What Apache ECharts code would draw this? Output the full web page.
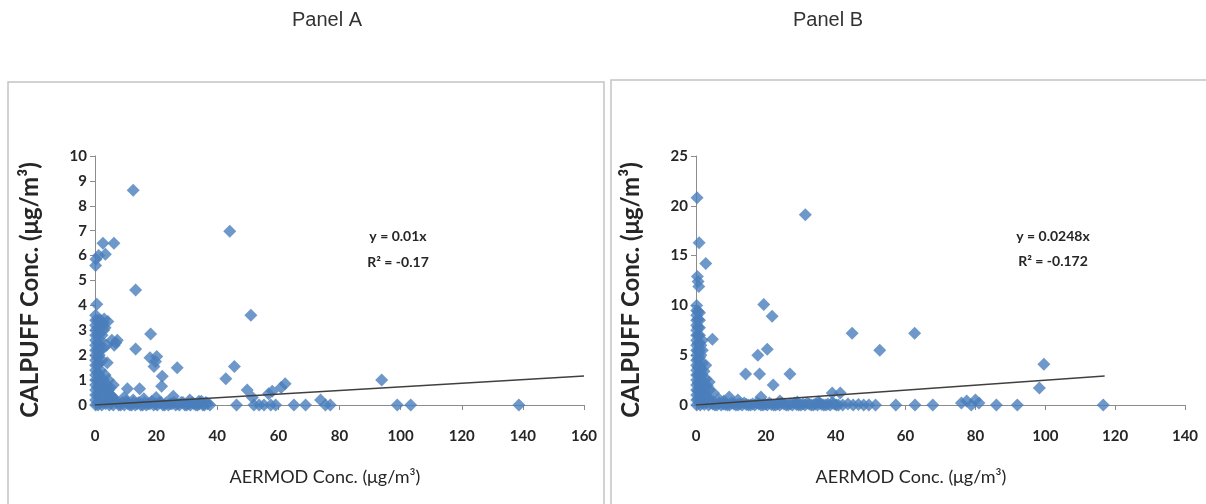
<!DOCTYPE html>
<html>
<head>
<meta charset="utf-8">
<script src="https://cdn.jsdelivr.net/npm/echarts@6/dist/echarts.min.js"></script>
<style>
  html, body { margin: 0; padding: 0; background: #ffffff; }
  #chart { width: 1206px; height: 504px; }
</style>
</head>
<body>
<div id="chart"></div>
<script>
// AERMOD vs CALPUFF modelled concentrations (µg/m³), two receptor sets

const panelNames = ['Panel A', 'Panel B'];
const xAxisTitle = 'AERMOD Conc. (μg/m³)';
const yAxisTitle = 'CALPUFF Conc. (μg/m³)';

// axis ranges: [min, max, interval]
const xRangeA = [0, 160, 20];
const yRangeA = [0, 10, 1];
const xRangeB = [0, 140, 20];
const yRangeB = [0, 25, 5];

// fitted trend lines (through origin) and their statistics
const slopeA = 0.0073;
const slopeB = 0.0248;
const rSquaredA = '-0.17';
const rSquaredB = '-0.172';
const trendSpanA = [0, 160];
const trendSpanB = [0, 117];

// Panel A observations: [AERMOD, CALPUFF]
const pointsA = [
  [12.5, 8.62], [44.1, 6.98], [6.2, 6.5], [2.6, 6.5], [3.4, 6.05], [1.2, 6.0], [0.3, 5.85], [0.2, 5.6],
  [13.3, 4.62], [0.6, 4.05], [51.0, 3.6], [4.2, 3.35], [3.0, 3.45], [18.2, 2.85], [6.8, 2.5], [6.3, 2.4],
  [7.3, 2.6], [5.5, 2.6], [13.3, 2.25], [18.0, 1.9], [20.2, 1.95], [19.3, 1.55], [19.8, 1.75], [4.0, 1.7],
  [26.9, 1.5], [22.0, 1.15], [21.8, 0.75], [10.6, 0.65], [14.6, 0.65], [45.6, 1.55], [42.8, 1.05],
  [49.8, 0.6], [62.2, 0.85], [58.0, 0.55], [56.8, 0.45], [60.9, 0.7], [93.8, 1.0], [25.6, 0.35],
  [73.8, 0.2], [51.5, 0.3],
  [46.3, 0], [52.0, 0], [53.7, 0], [55.3, 0], [57.5, 0], [59.1, 0], [65.1, 0], [68.9, 0], [75.4, 0],
  [77.0, 0], [98.9, 0], [103.3, 0], [138.7, 0],
  [1.0, 0], [1.6, 0.1], [2.2, 0], [2.9, 0.1], [3.5, 0.05], [4.1, 0.15], [4.7, 0], [5.4, 0.1], [6.0, 0],
  [6.6, 0.15], [7.2, 0.1], [7.8, 0], [8.4, 0], [9.0, 0.1], [9.6, 0], [10.2, 0.15], [10.8, 0.05], [11.4, 0],
  [12.0, 0], [12.6, 0.1], [13.2, 0], [13.8, 0.05], [14.4, 0.1], [15.0, 0], [15.6, 0], [16.2, 0.1],
  [16.8, 0], [17.4, 0.05], [18.0, 0.05], [18.6, 0.15], [19.2, 0], [19.8, 0.05], [20.4, 0], [21.0, 0.1],
  [21.6, 0.1], [22.2, 0], [22.8, 0], [23.4, 0.1], [24.0, 0], [24.6, 0.05], [25.2, 0.05], [25.8, 0.1],
  [26.4, 0], [27.0, 0.05], [27.6, 0], [28.2, 0.1], [28.8, 0.1], [29.4, 0], [30.0, 0], [30.6, 0.05],
  [31.2, 0], [31.8, 0.1], [32.4, 0.05], [33.0, 0], [33.6, 0], [34.2, 0.05], [34.8, 0.15], [35.3, 0],
  [35.8, 0], [36.3, 0.1], [36.8, 0.05], [37.6, 0],
  [9.5, 0.3], [16.0, 0.25], [20.0, 0.3], [31.0, 0.2], [34.0, 0.15], [12.5, 0.2], [5.5, 0.35],
  [0.2, 0], [0.2, 0.2], [0.2, 0.4], [0.2, 0.6], [0.2, 0.8], [0.2, 1.0], [0.2, 1.2], [0.2, 1.4], [0.2, 1.6],
  [0.2, 1.8], [0.2, 2.0], [0.2, 2.2], [0.2, 2.4], [0.2, 2.6], [0.2, 2.8], [0.2, 3.0], [0.2, 3.2], [0.2, 3.4],
  [0.2, 3.6],
  [0.9, 0.1], [0.9, 0.4], [0.9, 0.7], [0.9, 1.0], [0.9, 1.3], [0.9, 1.6], [0.9, 1.9], [0.9, 2.2], [0.9, 2.5],
  [0.9, 2.8], [0.9, 3.1], [0.9, 3.4],
  [1.4, 0.3], [1.4, 0.8], [1.4, 1.2], [1.4, 1.7], [1.4, 2.0], [1.4, 2.4], [1.4, 2.9], [1.4, 3.3],
  [1.8, 3.4], [1.8, 3.1], [1.8, 2.6], [1.8, 2.2], [1.8, 1.4], [1.8, 0.9], [1.8, 0.5], [1.8, 0.2],
  [2.3, 3.2], [2.3, 2.8], [2.3, 1.8], [2.3, 0.8], [2.3, 0.4],
  [2.8, 3.3], [2.8, 3.0], [2.8, 2.3], [2.8, 1.0], [2.8, 0.6], [2.8, 0.3],
  [3.3, 3.1], [3.3, 1.2], [3.3, 0.7],
  [3.8, 2.4], [3.8, 0.8], [3.8, 0.5], [3.8, 0.2],
  [4.4, 1.0], [4.4, 0.6],
  [5.0, 0.7], [5.0, 0.4], [5.0, 0.1], [6.0, 0.8], [6.0, 0.3]
];

// Panel B observations: [AERMOD, CALPUFF]
const pointsB = [
  [0.3, 20.8], [31.3, 19.1], [0.9, 16.3], [2.8, 14.2], [0.4, 12.9], [0.6, 12.4], [0.8, 11.9],
  [19.4, 10.1], [21.8, 8.9], [4.7, 6.6], [44.7, 7.2], [62.6, 7.2], [52.6, 5.5], [20.4, 5.6], [17.7, 5.0],
  [14.2, 3.1], [18.2, 3.1], [26.9, 3.1], [22.1, 2.0], [99.6, 4.1], [98.3, 1.7], [39.0, 1.2], [41.3, 1.2],
  [9.5, 0.8], [18.6, 0.8], [12.0, 0.5], [24.0, 0.4], [29.0, 0.3], [35.0, 0.3],
  [42.0, 0], [43.5, 0.1], [45.0, 0], [46.5, 0.05], [48.0, 0], [49.5, 0], [51.4, 0], [57.2, 0], [62.7, 0],
  [67.8, 0], [76.0, 0.2], [77.5, 0.4], [78.8, 0], [80.0, 0.5], [81.0, 0.2], [86.0, 0], [92.0, 0], [116.6, 0],
  [1.2, 0], [1.8, 0.2], [2.4, 0.05], [3.0, 0.3], [3.6, 0], [4.2, 0.2], [4.8, 0.1], [5.4, 0], [6.0, 0],
  [6.6, 0.2], [7.2, 0], [7.8, 0.1], [8.4, 0.05], [9.0, 0], [9.6, 0], [10.2, 0.2], [10.8, 0.1], [11.4, 0],
  [12.0, 0], [12.6, 0.1], [13.2, 0], [13.8, 0.2], [14.4, 0.05], [15.0, 0], [15.6, 0], [16.2, 0.1],
  [16.8, 0], [17.4, 0.2], [18.0, 0.1], [18.6, 0], [19.2, 0], [19.8, 0.1], [20.4, 0], [21.0, 0.2],
  [21.6, 0.05], [22.2, 0], [22.8, 0], [23.4, 0.1], [24.0, 0], [24.6, 0.2], [25.2, 0.1], [25.8, 0],
  [26.4, 0], [27.0, 0.1], [27.6, 0], [28.2, 0.2], [28.8, 0.05], [29.4, 0], [30.0, 0], [30.6, 0.1],
  [31.2, 0], [31.8, 0.2], [32.4, 0.1], [33.0, 0], [33.6, 0], [34.2, 0.1], [34.8, 0], [35.4, 0.2],
  [36.0, 0.05], [36.6, 0], [37.2, 0], [37.8, 0.1], [38.4, 0], [39.0, 0.2], [39.6, 0.1], [40.2, 0], [40.8, 0],
  [0.2, 0], [0.2, 0.5], [0.2, 1.0], [0.2, 1.5], [0.2, 2.0], [0.2, 2.5], [0.2, 3.0], [0.2, 3.5], [0.2, 4.0],
  [0.2, 4.5], [0.2, 5.0], [0.2, 5.5], [0.2, 6.0], [0.2, 6.5], [0.2, 7.0], [0.2, 7.5], [0.2, 8.0], [0.2, 8.5],
  [0.2, 9.0], [0.2, 9.5], [0.2, 10.0],
  [0.6, 0.6], [0.6, 1.4], [0.6, 2.2], [0.6, 3.0], [0.6, 3.8], [0.6, 4.6], [0.6, 5.4], [0.6, 6.2], [0.6, 7.0],
  [0.6, 7.8], [0.6, 8.6], [0.6, 9.4],
  [1.0, 0.25], [1.0, 1.0], [1.0, 1.75], [1.0, 2.5], [1.0, 3.25], [1.0, 4.0], [1.0, 4.75], [1.0, 5.5],
  [1.0, 6.25], [1.0, 7.0], [1.0, 7.75], [1.0, 8.5], [1.0, 9.25],
  [1.4, 0.8], [1.4, 2.2], [1.4, 3.6], [1.4, 5.0], [1.4, 6.0],
  [1.8, 0.5], [1.8, 1.2], [1.8, 2.0], [1.8, 3.0], [1.8, 4.2], [1.8, 5.5], [1.8, 6.5],
  [2.3, 0.7], [2.3, 1.5], [2.3, 2.3], [2.3, 3.4],
  [2.8, 0.3], [2.8, 1.0], [2.8, 1.8], [2.8, 2.6], [2.8, 4.0],
  [3.3, 0.8], [3.3, 1.9],
  [3.8, 0.5], [3.8, 1.5], [3.8, 2.3], [5.0, 0.3], [5.0, 1.2], [6.5, 0.6], [8.0, 0.4]
];

const markerColor = '#4a7ebb';
const lineColor = '#404040';
const axisColor = '#8c8c8c';
const tickFont = { fontFamily: 'Lato', fontWeight: 'bold', fontSize: 15, color: '#262626' };

function trend(slope, span) {
  return span.map(function (x) { return [x, slope * x]; });
}

function xAxisFor(range, gridIndex) {
  return {
    type: 'value', gridIndex: gridIndex,
    min: range[0], max: range[1], interval: range[2],
    axisLine: { show: true, lineStyle: { color: axisColor, width: 1 } },
    axisTick: { show: true, length: 5, lineStyle: { color: axisColor } },
    splitLine: { show: false },
    axisLabel: Object.assign({ margin: 24 }, tickFont)
  };
}

function yAxisFor(range, gridIndex) {
  return {
    type: 'value', gridIndex: gridIndex,
    min: range[0], max: range[1], interval: range[2],
    axisLine: { show: true, lineStyle: { color: axisColor, width: 1 } },
    axisTick: { show: true, length: 5, lineStyle: { color: axisColor } },
    splitLine: { show: false },
    axisLabel: Object.assign({ margin: 8 }, tickFont)
  };
}

function scatterFor(points, idx) {
  return {
    type: 'scatter', xAxisIndex: idx, yAxisIndex: idx,
    data: points, symbol: 'diamond', symbolSize: 13,
    itemStyle: { color: markerColor }, z: 2, clip: false
  };
}

function trendFor(slope, span, idx) {
  return {
    type: 'line', xAxisIndex: idx, yAxisIndex: idx,
    data: trend(slope, span), showSymbol: false, silent: true,
    lineStyle: { color: lineColor, width: 1.5 }, z: 3
  };
}

const chart = echarts.init(document.getElementById('chart'), null, { renderer: 'canvas' });

const textBase = { fontFamily: 'Lato', fontWeight: 'bold', fontSize: 14, fill: '#262626', textAlign: 'center' };
const yTitleStyle = { text: yAxisTitle, fontFamily: 'Lato', fontWeight: 'bold', fontSize: 24, fill: '#262626',
  textAlign: 'center', textVerticalAlign: 'middle' };
const xTitleStyle = { text: xAxisTitle, fontFamily: 'Lato', fontSize: 18, fill: '#262626',
  textAlign: 'center', textVerticalAlign: 'middle' };
const headStyle = { fontFamily: 'Liberation Sans', fontSize: 20, fill: '#333333', textAlign: 'center',
  textVerticalAlign: 'middle' };

chart.setOption({
  backgroundColor: '#ffffff',
  animation: false,
  grid: [
    { left: 95, top: 156, width: 489, height: 249 },
    { left: 696, top: 156, width: 489, height: 249 }
  ],
  xAxis: [xAxisFor(xRangeA, 0), xAxisFor(xRangeB, 1)],
  yAxis: [yAxisFor(yRangeA, 0), yAxisFor(yRangeB, 1)],
  series: [
    scatterFor(pointsA, 0), trendFor(slopeA, trendSpanA, 0),
    scatterFor(pointsB, 1), trendFor(slopeB, trendSpanB, 1)
  ],
  graphic: [
    // panel frames
    { type: 'rect', shape: { x: 8, y: 82, width: 596, height: 440 },
      style: { fill: 'none', stroke: '#c4c4c4', lineWidth: 1.5 }, z: -1 },
    { type: 'rect', shape: { x: 611, y: 80, width: 600, height: 440 },
      style: { fill: 'none', stroke: '#c4c4c4', lineWidth: 1.5 }, z: -1 },
    // panel headings
    { type: 'text', x: 327, y: 20, style: Object.assign({ text: panelNames[0] }, headStyle) },
    { type: 'text', x: 828, y: 20, style: Object.assign({ text: panelNames[1] }, headStyle) },
    // axis titles
    { type: 'text', x: 30, y: 290, rotation: Math.PI / 2, style: yTitleStyle },
    { type: 'text', x: 631, y: 290, rotation: Math.PI / 2, style: yTitleStyle },
    { type: 'text', x: 325, y: 477, style: xTitleStyle },
    { type: 'text', x: 911, y: 477, style: xTitleStyle },
    // trend equations
    { type: 'text', x: 398, y: 229, style: Object.assign({ text: 'y = ' + slopeA.toFixed(2) + 'x' }, textBase) },
    { type: 'text', x: 398, y: 255, style: Object.assign({ text: 'R² = ' + rSquaredA }, textBase) },
    { type: 'text', x: 1053, y: 229, style: Object.assign({ text: 'y = ' + slopeB.toFixed(4) + 'x' }, textBase) },
    { type: 'text', x: 1053, y: 254, style: Object.assign({ text: 'R² = ' + rSquaredB }, textBase) }
  ]
});
</script>
</body>
</html>
